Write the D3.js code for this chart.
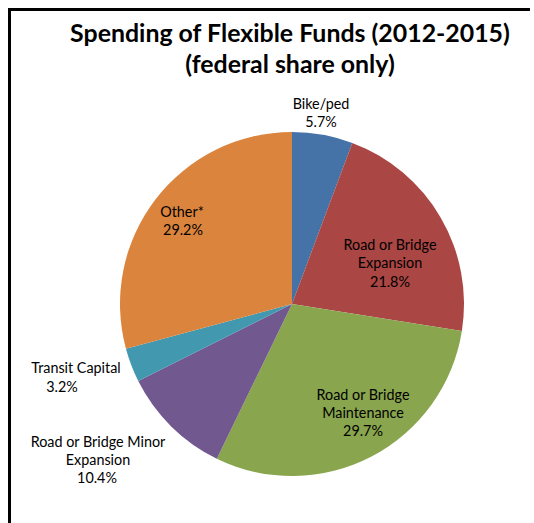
<!DOCTYPE html>
<html>
<head>
<meta charset="utf-8">
<script src="https://cdn.jsdelivr.net/npm/d3@7"></script>
<style>
  html, body { margin: 0; padding: 0; background: #fff; }
  svg { display: block; }
  text { font-family: Lato, "Open Sans", "Liberation Sans", sans-serif; fill: #000; }
</style>
</head>
<body>
<svg id="chart" width="534" height="523"></svg>
<script>
// ---- data ----
const categories = ["Bike/ped", "Road or Bridge Expansion", "Road or Bridge Maintenance",
                    "Road or Bridge Minor Expansion", "Transit Capital", "Other*"];
const values = [5.7, 21.8, 29.7, 10.4, 3.2, 29.2];
const colors = ["#4572A7", "#AA4643", "#89A54E", "#71588F", "#4198AF", "#DB843D"];
const labelLines = [
  ["Bike/ped", "5.7%"],
  ["Road or Bridge", "Expansion", "21.8%"],
  ["Road or Bridge", "Maintenance", "29.7%"],
  ["Road or Bridge Minor", "Expansion", "10.4%"],
  ["Transit Capital", "3.2%"],
  ["Other*", "29.2%"]
];
const titleLines = ["Spending of Flexible Funds (2012-2015)", "(federal share only)"];

// ---- layout ----
const svg = d3.select("#chart");
const cx = 292, cy = 304, r = 172;

// frame
svg.append("line").attr("x1", 9.5).attr("y1", 8).attr("x2", 9.5).attr("y2", 523)
  .attr("stroke", "#000").attr("stroke-width", 3);
svg.append("line").attr("x1", 8).attr("y1", 9.5).attr("x2", 530).attr("y2", 9.5)
  .attr("stroke", "#000").attr("stroke-width", 3);

// title: size fitted so line 1 spans the reference width
const titleY = [42, 73];
const probe = svg.append("text").attr("font-weight", "bold").attr("font-size", 24).text(titleLines[0]);
const titleSize = 24 * 440 / probe.node().getComputedTextLength();
probe.remove();
titleLines.forEach((t, i) => {
  svg.append("text")
    .attr("x", 290).attr("y", titleY[i])
    .attr("text-anchor", "middle")
    .attr("font-weight", "bold")
    .attr("font-size", titleSize)
    .text(t);
});

// pie
const pie = d3.pie().sort(null).value(d => d)
  .startAngle(0).endAngle(2 * Math.PI);
const arc = d3.arc().innerRadius(0).outerRadius(r);
const g = svg.append("g").attr("transform", `translate(${cx},${cy})`);
g.selectAll("path").data(pie(values)).join("path")
  .attr("d", arc)
  .attr("fill", (d, i) => colors[i]);

// labels: size fitted so "Road or Bridge" spans ~94px like the reference
const lp = svg.append("text").attr("font-size", 12).text("Road or Bridge");
const labelFont = 12 * 93 / lp.node().getComputedTextLength();
lp.remove();
const labelPos = [
  { x: [321, 321], y: [109, 127] },
  { x: [390, 390, 390], y: [250, 268, 287] },
  { x: [363, 363, 363], y: [400, 418, 436] },
  { x: [98, 98, 97], y: [447, 465, 483] },
  { x: [76, 62], y: [373, 392] },
  { x: [182, 183], y: [217, 235] }
];
labelLines.forEach((lines, i) => {
  lines.forEach((ln, j) => {
    svg.append("text")
      .attr("x", labelPos[i].x[j]).attr("y", labelPos[i].y[j])
      .attr("text-anchor", "middle")
      .attr("font-size", labelFont)
      .text(ln);
  });
});
</script>
</body>
</html>
